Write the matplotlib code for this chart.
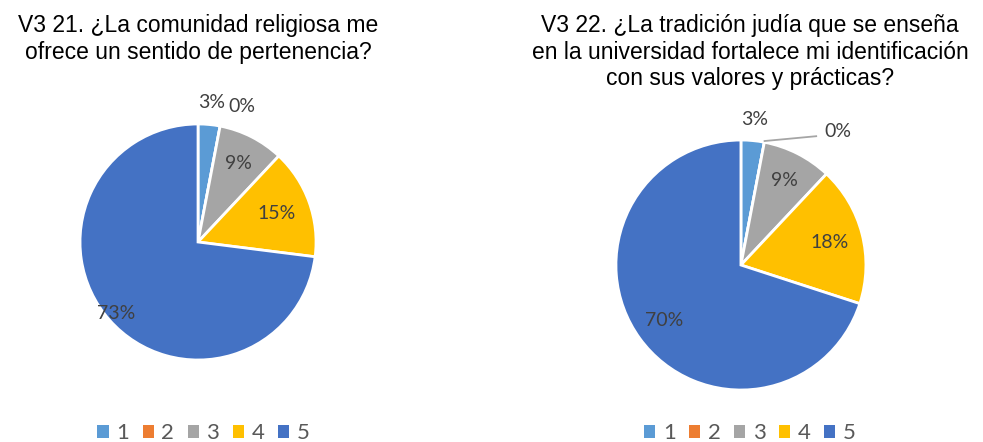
import numpy as np
import matplotlib.pyplot as plt
from matplotlib.patches import Patch

# datos
categorias = ['1', '2', '3', '4', '5']
valores_21 = [3, 0, 9, 15, 73]
valores_22 = [3, 0, 9, 18, 70]
titulo_21 = 'V3 21. ¿La comunidad religiosa me\nofrece un sentido de pertenencia?'
titulo_22 = ('V3 22. ¿La tradición judía que se enseña\nen la universidad fortalece mi identificación\n'
             'con sus valores y prácticas?')
colores = ['#5B9BD5', '#ED7D31', '#A5A5A5', '#FFC000', '#4472C4']

plt.rcParams['font.family'] = ['Liberation Sans', 'DejaVu Sans']

fig = plt.figure(figsize=(9.83, 4.42), dpi=100)


def dibujar_pie(rect, valores, titulo, dist, ang_extra, leader, title_x, legend_x):
    ax = fig.add_axes(rect)
    ax.pie(valores, colors=colores, startangle=90, counterclock=False,
           radius=1, wedgeprops=dict(edgecolor='white', linewidth=2))
    ax.set_xlim(-1, 1)
    ax.set_ylim(-1, 1)
    ax.set_aspect('equal')
    ax.axis('off')
    # etiquetas de porcentaje
    total = float(sum(valores))
    acum = 0.0
    for i, v in enumerate(valores):
        mid = (acum + v / 2) / total * 360
        acum += v
        ang = np.deg2rad(90 - mid - ang_extra[i])
        x, y = dist[i] * np.cos(ang), dist[i] * np.sin(ang)
        ax.text(x, y, '{}%'.format(v), ha='center', va='center', fontsize=14,
                color='#404040', family=['Lato', 'DejaVu Sans'], clip_on=False)
        if leader[i]:
            ang0 = np.deg2rad(90 - mid)
            ax.plot([1.01 * np.cos(ang0), x - 0.17], [1.01 * np.sin(ang0), y - 0.04],
                    color='#A5A5A5', lw=1.3, clip_on=False)
    fig.text(title_x, 0.968, titulo, ha='center', va='top',
             fontsize=16.5, linespacing=1.2, color='black')
    handles = [Patch(facecolor=c, edgecolor='none') for c in colores]
    fig.legend(handles, categorias, loc='center', bbox_to_anchor=(legend_x, 0.02),
               ncol=5, frameon=False, handlelength=0.5, handleheight=0.5,
               handletextpad=0.35, columnspacing=0.6, labelcolor='#595959',
               prop={'family': ['Lato', 'DejaVu Sans'], 'size': 16})
    return ax


dibujar_pie([0.0814, 0.1855, 0.2401, 0.534], valores_21, titulo_21,
            [1.19, 1.21, 0.75, 0.71, 0.92], [0, 7, 0, 0, 0], [False] * 5, 0.202, 0.207)
dibujar_pie([0.6266, 0.1176, 0.2543, 0.5656], valores_22, titulo_22,
            [1.17, 1.32, 0.76, 0.73, 0.76], [0, 25, 0, 0, 0], [False, True, False, False, False], 0.763, 0.763)

fig.savefig('out.png', dpi=100)
